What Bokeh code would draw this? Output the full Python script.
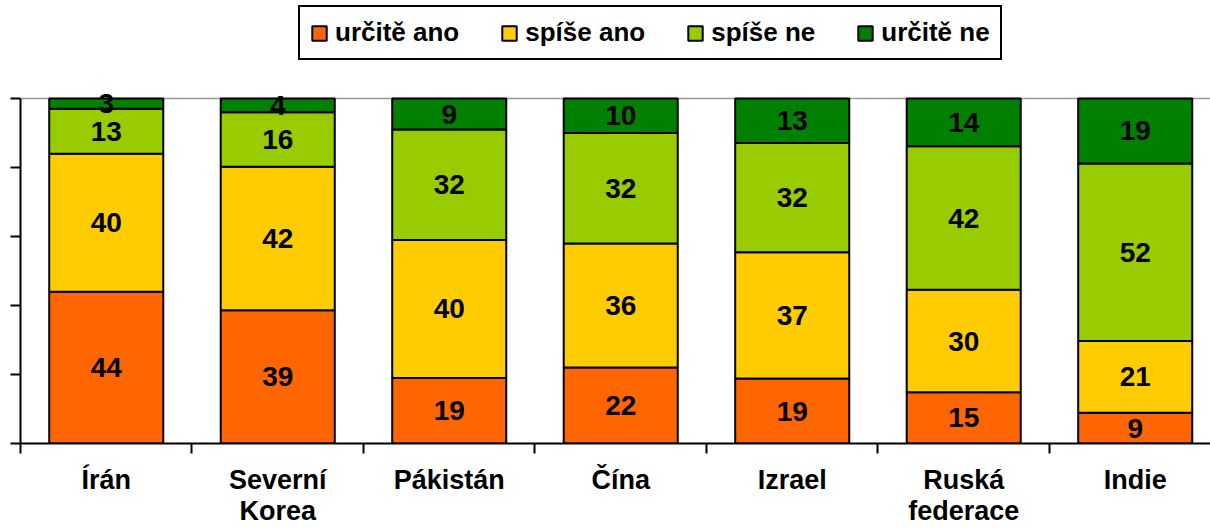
from bokeh.plotting import figure
from bokeh.models import (ColumnDataSource, Range1d, FixedTicker, Legend, LegendItem, Span)
from bokeh.core.properties import value
from bokeh.embed import file_html
from bokeh.resources import INLINE

categories = ["Írán", "Severní\nKorea", "Pákistán", "Čína", "Izrael", "Ruská\nfederace", "Indie"]
urcite_ano = [44, 39, 19, 22, 19, 15, 9]
spise_ano = [40, 42, 40, 36, 37, 30, 21]
spise_ne = [13, 16, 32, 32, 32, 42, 52]
urcite_ne = [3, 4, 9, 10, 13, 14, 19]
series_names = ["určitě ano", "spíše ano", "spíše ne", "určitě ne"]
series = [urcite_ano, spise_ano, spise_ne, urcite_ne]
colors = ["#FF6600", "#FFCC00", "#99CC00", "#008000"]
y_ticks = [0, 20, 40, 60, 80, 100]

FONT = "Liberation Sans"

p = figure(width=1210, height=529, output_backend="svg", toolbar_location=None,
           x_range=Range1d(0, 6.939), y_range=Range1d(0, 128.4),
           min_border_left=20, min_border_right=0, min_border_top=0, min_border_bottom=86)
p.outline_line_color = None
p.xgrid.grid_line_color = None
p.ygrid.grid_line_color = None
p.background_fill_color = "white"

p.add_layout(Span(location=100, dimension="width", line_color="#999999", line_width=1.5, level="underlay"))

xs = [i + 0.5 for i in range(len(categories))]
totals = [sum(s[i] for s in series) for i in range(len(categories))]

items = []
bottoms = [0.0] * len(categories)
label_sources = []
for name, vals, col in zip(series_names, series, colors):
    bot = list(bottoms)
    top = [b + v / t * 100 for b, v, t in zip(bot, vals, totals)]
    mid = [(b + t) / 2 for b, t in zip(bot, top)]
    src = ColumnDataSource(dict(x=xs, bottom=bot, top=top))
    r = p.vbar(x="x", bottom="bottom", top="top", width=0.665, source=src,
               fill_color=col, line_color="black", line_width=2)
    items.append(LegendItem(label=name, renderers=[r]))
    label_sources.append(ColumnDataSource(dict(x=xs, y=mid, lab=[str(v) for v in vals])))
    bottoms = top

for src in label_sources:
    p.text(x="x", y="y", text="lab", source=src, text_align="center", text_baseline="middle",
           text_font=value(FONT), text_font_style="bold", text_font_size="28px", text_color="black")

# y axis: tick marks only (no labels)
p.yaxis.bounds = (0, 100)
p.yaxis.ticker = FixedTicker(ticks=[], minor_ticks=y_ticks)
p.yaxis.minor_tick_out = 10
p.yaxis.minor_tick_in = 0
p.yaxis.minor_tick_line_width = 2
p.yaxis.minor_tick_line_color = "black"
p.yaxis.axis_line_width = 2
p.yaxis.axis_line_color = "black"

# x axis
p.xaxis.ticker = FixedTicker(ticks=xs, minor_ticks=list(range(len(categories) + 1)))
p.xaxis.major_label_overrides = {x: c for x, c in zip(xs, categories)}
p.xaxis.major_tick_line_color = None
p.xaxis.major_tick_out = 0
p.xaxis.major_tick_in = 0
p.xaxis.minor_tick_out = 10
p.xaxis.minor_tick_in = 0
p.xaxis.minor_tick_line_width = 2
p.xaxis.minor_tick_line_color = "black"
p.xaxis.axis_line_width = 2
p.xaxis.axis_line_color = "black"
p.xaxis.major_label_text_font = FONT
p.xaxis.major_label_text_font_style = "bold"
p.xaxis.major_label_text_font_size = "27px"
p.xaxis.major_label_text_color = "black"
p.xaxis.major_label_standoff = 11
p.xaxis.major_label_text_line_height = 1.05

legend = Legend(items=items, orientation="horizontal", location=(278, 383),
                label_text_font=FONT, label_text_font_style="bold", label_text_font_size="26px",
                label_text_color="black", glyph_width=18, glyph_height=18, label_standoff=7,
                label_height=20, spacing=41, padding=10, margin=0,
                border_line_color="black", border_line_width=2.5, border_line_alpha=1.0,
                background_fill_alpha=1)
p.add_layout(legend, "center")

open("out.html", "w").write(file_html(p, INLINE))
